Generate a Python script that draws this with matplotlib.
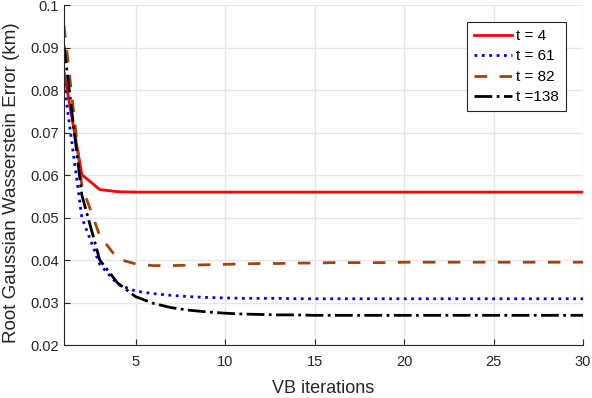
import matplotlib.pyplot as plt
import numpy as np

plt.rcParams['font.family'] = ['Liberation Sans', 'DejaVu Sans']

iters = np.arange(1, 31)

err_t4 = [0.0843, 0.0601, 0.0566, 0.0561, 0.0560, 0.0560, 0.0560, 0.0560, 0.0560, 0.0560,
          0.0560, 0.0560, 0.0560, 0.0560, 0.0560, 0.0560, 0.0560, 0.0560, 0.0560, 0.0560,
          0.0560, 0.0560, 0.0560, 0.0560, 0.0560, 0.0560, 0.0560, 0.0560, 0.0560, 0.0560]
err_t61 = [0.0817, 0.0500, 0.0390, 0.0343, 0.0327, 0.0321, 0.0317, 0.0314, 0.0312, 0.0311,
           0.0310, 0.0310, 0.0310, 0.0309, 0.0309, 0.0309, 0.0309, 0.0309, 0.0309, 0.0309,
           0.0309, 0.0309, 0.0309, 0.0309, 0.0309, 0.0309, 0.0309, 0.0309, 0.0309, 0.0309]
err_t82 = [0.0953, 0.0575, 0.0457, 0.0403, 0.0391, 0.0387, 0.0387, 0.0388, 0.0389, 0.0390,
           0.0391, 0.0392, 0.0392, 0.0393, 0.0393, 0.0394, 0.0394, 0.0394, 0.0394, 0.0395,
           0.0395, 0.0395, 0.0395, 0.0395, 0.0395, 0.0395, 0.0395, 0.0395, 0.0395, 0.0395]
err_t138 = [0.0905, 0.0553, 0.0400, 0.0346, 0.0314, 0.0298, 0.0288, 0.0282, 0.0278, 0.0275,
            0.0273, 0.0272, 0.0271, 0.0271, 0.0270, 0.0270, 0.0270, 0.0270, 0.0270, 0.0270,
            0.0270, 0.0270, 0.0270, 0.0270, 0.0270, 0.0270, 0.0270, 0.0270, 0.0270, 0.0270]

labels = ['t = 4', 't = 61', 't = 82', 't =138']

fig = plt.figure(figsize=(5.92, 3.98), dpi=100)
ax = fig.add_axes([0.108, 0.133, 0.877, 0.854])

ax.plot(iters, err_t4, '-', color='#ff0000', lw=2, label=labels[0])
ax.plot(iters, err_t61, ':', color='#0000ff', lw=2, label=labels[1])
ax.plot(iters, err_t82, '--', color='#a8420c', lw=2, dashes=(4.5, 4.5), label=labels[2])
ax.plot(iters, err_t138, '-.', color='#000000', lw=2, label=labels[3])

ax.set_xlim(1, 30)
ax.set_ylim(0.02, 0.1)
ax.set_xticks([5, 10, 15, 20, 25, 30])
ax.set_yticks([0.02, 0.03, 0.04, 0.05, 0.06, 0.07, 0.08, 0.09, 0.1])
ax.set_yticklabels(['0.02', '0.03', '0.04', '0.05', '0.06', '0.07', '0.08', '0.09', '0.1'])

ax.grid(True, color='#e6e6e6', lw=1)
ax.set_axisbelow(True)
for s in ['top', 'right']:
    ax.spines[s].set_visible(False)
for s in ['left', 'bottom']:
    ax.spines[s].set_color('#262626')
ax.tick_params(direction='in', length=4, labelsize=10.5, colors='#262626')
ax.tick_params(axis='x', pad=7.5)

ax.set_xlabel('VB iterations', fontsize=13, color='#262626')
ax.xaxis.set_label_coords(0.5, -0.103)
ax.set_ylabel('Root Gaussian Wasserstein Error (km)', fontsize=13.5, color='#262626')
ax.yaxis.set_label_coords(-0.085, 0.478)

leg = ax.legend(loc='upper right', bbox_to_anchor=(0.967, 0.95), borderaxespad=0,
                fontsize=11, fancybox=False, framealpha=1, edgecolor='#262626',
                handlelength=2.5, handletextpad=0.25, borderpad=0.45, labelspacing=0.42)
leg.get_frame().set_linewidth(0.8)

fig.savefig('out.png')
